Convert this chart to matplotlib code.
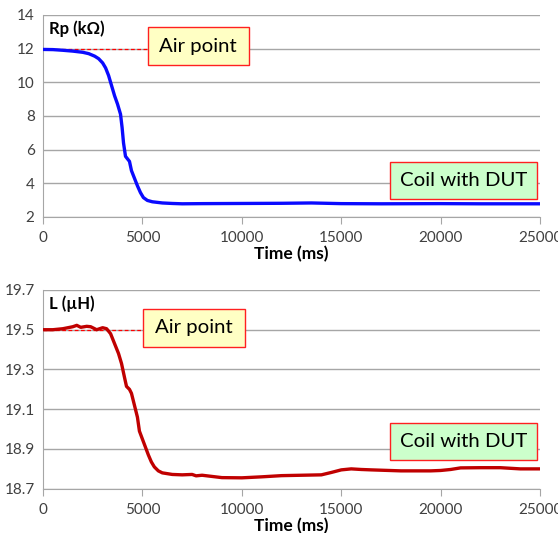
import matplotlib
matplotlib.use("Agg")
import matplotlib.pyplot as plt
from matplotlib.patches import Rectangle

# Rp (kOhm) vs time
t_rp = [0, 500, 1000, 1500, 2000, 2300, 2600, 2800, 3000, 3150, 3300, 3450, 3600,
        3750, 3900, 3980, 4050, 4150, 4250, 4350, 4450, 4600, 4750, 4900, 5050,
        5250, 5500, 6000, 6500, 7000, 8000, 10000, 12000, 13500, 15000, 17000,
        20000, 22000, 25000]
rp = [11.95, 11.94, 11.9, 11.85, 11.78, 11.7, 11.55, 11.4, 11.15, 10.85, 10.4,
      9.8, 9.2, 8.7, 8.1, 7.3, 6.4, 5.6, 5.45, 5.3, 4.75, 4.3, 3.85, 3.45, 3.15,
      2.98, 2.9, 2.83, 2.8, 2.78, 2.79, 2.8, 2.81, 2.83, 2.79, 2.78, 2.79, 2.78,
      2.78]

# L (uH) vs time
t_l = [0, 500, 1000, 1500, 1700, 1900, 2200, 2400, 2700, 3000, 3200, 3400, 3600,
       3800, 3950, 4100, 4200, 4350, 4450, 4600, 4750, 4850, 5000, 5150, 5300,
       5450, 5600, 5800, 6000, 6500, 7000, 7500, 7700, 8000, 8500, 9000, 10000,
       11000, 12000, 13000, 14000, 14500, 15000, 15500, 16000, 16500, 18000,
       19500, 20000, 20500, 21000, 22000, 23000, 24000, 25000]
l_uh = [19.50, 19.50, 19.505, 19.515, 19.522, 19.512, 19.517, 19.515, 19.50,
        19.51, 19.505, 19.48, 19.43, 19.38, 19.33, 19.26, 19.215, 19.2, 19.18,
        19.12, 19.06, 18.99, 18.95, 18.91, 18.87, 18.835, 18.81, 18.79, 18.78,
        18.772, 18.77, 18.772, 18.765, 18.768, 18.762, 18.756, 18.755, 18.76,
        18.766, 18.768, 18.77, 18.782, 18.795, 18.80, 18.797, 18.795, 18.79,
        18.79, 18.792, 18.797, 18.805, 18.806, 18.806, 18.80, 18.80]

rp_air = 12.0
l_air = 19.5

plt.rcParams['font.family'] = ['Lato', 'DejaVu Sans']

fig = plt.figure(figsize=(5.58, 5.33), dpi=100)
ax1 = fig.add_axes([0.077, 0.593, 0.891, 0.379])
ax2 = fig.add_axes([0.077, 0.083, 0.891, 0.373])

def style(ax, ylim, yticks, ylab):
    ax.set_xlim(0, 25000)
    ax.set_ylim(*ylim)
    ax.set_yticks(yticks)
    ax.set_xticks(range(0, 25001, 5000))
    ax.grid(axis='y', color='#a6a6a6', lw=1)
    ax.set_axisbelow(True)
    for s in ['top', 'right']:
        ax.spines[s].set_visible(False)
    ax.spines['left'].set_color('#a6a6a6')
    ax.spines['bottom'].set_color('#a6a6a6')
    ax.tick_params(axis='y', length=0, labelsize=11, colors='#404040', pad=6)
    ax.tick_params(axis='x', length=5, color='#a6a6a6', labelsize=11,
                   labelcolor='#404040', pad=5)
    ax.set_xlabel('Time (ms)', fontsize=12.5, fontweight='bold', labelpad=1)
    ax.text(0.012, 0.93, ylab, transform=ax.transAxes, fontsize=12,
            fontweight='bold', va='center', ha='left')

def label_box(ax, rect, txt, fc):
    x0, y0, w, h = rect
    ax.add_patch(Rectangle((x0, y0), w, h, transform=ax.transAxes, fc=fc,
                           ec='#ff2020', lw=1, zorder=5, clip_on=False))
    ax.text(x0 + w / 2, y0 + h / 2, txt, transform=ax.transAxes, fontsize=14.7,
            ha='center', va='center', zorder=6)

ax1.plot(t_rp, rp, color='#0a0aff', lw=2.4, zorder=3)
style(ax1, (2, 14), range(2, 15, 2), 'Rp (kΩ)')
ax1.hlines(rp_air, 0, 5300, colors='red', linestyles=(0, (3, 2)), lw=0.9, zorder=2)
label_box(ax1, (0.211, 0.752, 0.203, 0.188), 'Air point', '#ffffc4')
label_box(ax1, (0.698, 0.089, 0.296, 0.183), 'Coil with DUT', '#ccffcc')

ax2.plot(t_l, l_uh, color='#c00000', lw=2.4, zorder=3)
style(ax2, (18.7, 19.7), [18.7, 18.9, 19.1, 19.3, 19.5, 19.7], 'L (µH)')
ax2.set_yticklabels(['18.7', '18.9', '19.1', '19.3', '19.5', '19.7'])
ax2.hlines(l_air, 0, 5050, colors='red', linestyles=(0, (3, 2)), lw=0.9, zorder=2)
label_box(ax2, (0.201, 0.714, 0.205, 0.191), 'Air point', '#ffffc4')
label_box(ax2, (0.698, 0.146, 0.296, 0.186), 'Coil with DUT', '#ccffcc')

fig.savefig('out.png', dpi=100)
